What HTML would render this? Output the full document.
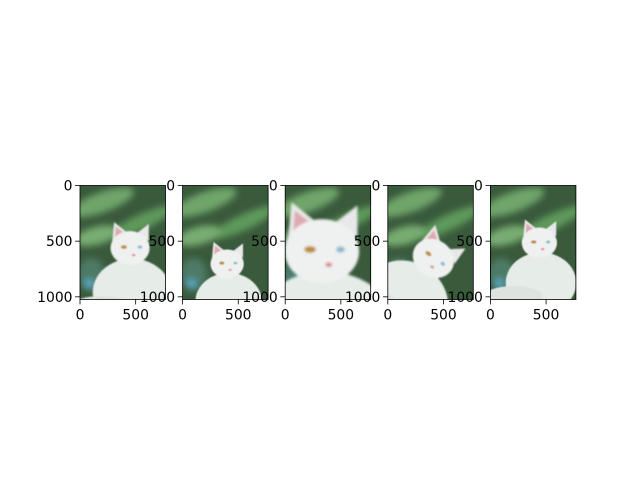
<!DOCTYPE html>
<html><head><meta charset="utf-8"><style>
body{margin:0;background:#fff;}
svg text{font-family:"DejaVu Sans","Liberation Sans",sans-serif;font-size:13.9px;fill:#000;}
</style></head><body>
<svg id="fig" width="640" height="480" xmlns="http://www.w3.org/2000/svg">
<defs>
<filter id="blur" x="-20%" y="-20%" width="140%" height="140%"><feGaussianBlur stdDeviation="30"/></filter>
<filter id="soft" x="-20%" y="-20%" width="140%" height="140%"><feGaussianBlur stdDeviation="0.04"/></filter>
</defs>
</svg>
<script>
const xTicks=[0,500];
const yTicks=[0,500,1000];
const imgW=768, imgH=1024;
const panelLefts=[80,182.6,285.2,387.8,490.4];
// cat pose per panel: head x, head y (data units), scale, rotation deg
const catX=[450,400,330,420,440];
const catY=[545,690,560,640,500];
const catS=[1.0,0.85,1.9,1.1,0.9];
const catR=[0,0,0,35,0];
const NS="http://www.w3.org/2000/svg";
const fig=document.getElementById('fig');
const axW=85.5, axH=114, axTop=185.5;
function el(tag,attrs,parent){const e=document.createElementNS(NS,tag);for(const k in attrs)e.setAttribute(k,attrs[k]);parent.appendChild(e);return e;}
for(let i=0;i<5;i++){
  const L=panelLefts[i];
  const sx=axW/imgW, sy=axH/imgH;
  const g=el('g',{},fig);
  
  
  const cp=el('clipPath',{id:'cp'+i},fig);
  el('rect',{x:0,y:0,width:imgW,height:imgH},cp);
  const img=el('g',{transform:`translate(${L},${axTop}) scale(${sx},${sy})`,'clip-path':`url(#cp${i})`},g);
  el('rect',{x:0,y:0,width:imgW,height:imgH,fill:'#3a5a3c'},img);
  const bg=el('g',{filter:'url(#blur)'},img);
  el('ellipse',{cx:200,cy:150,rx:300,ry:90,fill:'#6fa56a',transform:'rotate(-20 200 150)'},bg);
  el('ellipse',{cx:550,cy:330,rx:320,ry:70,fill:'#5f9a5c',transform:'rotate(-25 550 330)'},bg);
  el('ellipse',{cx:150,cy:450,rx:200,ry:80,fill:'#78ad72',transform:'rotate(-15 150 450)'},bg);
  el('ellipse',{cx:100,cy:800,rx:120,ry:150,fill:'#4d7a66'},bg);
  el('circle',{cx:80,cy:880,r:40,fill:'#5ab0d0'},bg);
  const cat=el('g',{transform:`translate(${catX[i]},${catY[i]}) rotate(${catR[i]}) scale(${catS[i]*160})`},img);
  
  
  const cf=el('g',{filter:'url(#soft)'},cat);
  el('ellipse',{cx:0.1,cy:2.6,rx:2.2,ry:1.9,fill:'#e6ece8'},cf);
  el('ellipse',{cx:-1.6,cy:3.4,rx:1.8,ry:0.6,fill:'#dde3df'},cf);
  el('path',{d:'M-1.0,-0.3 L-0.9,-1.35 L-0.15,-0.75 Z',fill:'#e8e8e8'},cf);
  el('path',{d:'M-0.85,-0.45 L-0.8,-1.1 L-0.35,-0.75 Z',fill:'#e0a8b0'},cf);
  el('path',{d:'M0.4,-0.75 L1.05,-1.25 L1.05,-0.3 Z',fill:'#e8e8e8'},cf);
  el('ellipse',{cx:0,cy:0.1,rx:1.1,ry:0.95,fill:'#eef1ef'},cf);
  el('ellipse',{cx:-0.35,cy:0.05,rx:0.17,ry:0.1,fill:'#c08a40'},cf);
  el('ellipse',{cx:0.55,cy:0.05,rx:0.13,ry:0.09,fill:'#8fb8d0'},cf);
  el('ellipse',{cx:0.2,cy:0.5,rx:0.1,ry:0.07,fill:'#e08a98'},cf);
  const fr=el('rect',{x:L,y:axTop,width:axW,height:axH,fill:'none',stroke:'#000','stroke-width':0.8},g);
  
  
  xTicks.forEach(v=>{
    const x=L+v*sx;
    el('line',{x1:x,y1:axTop+axH,x2:x,y2:axTop+axH+4.9,stroke:'#000','stroke-width':0.8},g);
    const t=el('text',{x:x,y:axTop+axH+20,'text-anchor':'middle'},g);
    t.textContent=v;
    
    
  });
  yTicks.forEach(v=>{
    const y=axTop+v*sy;
    el('line',{x1:L,y1:y,x2:L-4.9,y2:y,stroke:'#000','stroke-width':0.8},g);
    const t=el('text',{x:L-7.5,y:y+5,'text-anchor':'end'},g);
    t.textContent=v;
    
    
  });
}
</script>
</body></html>
